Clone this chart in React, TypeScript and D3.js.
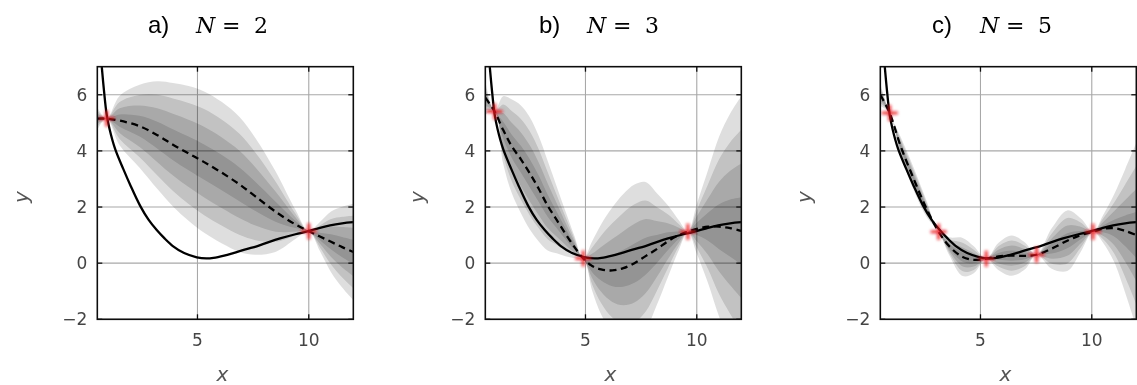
import React from 'react';
import * as d3 from 'd3';

const W = 1137;
const H = 385;

// ---- data ----
const trueX = [0.5, 0.6, 0.7, 0.8, 0.92, 1.05, 1.3, 1.67, 2.0, 2.42, 2.8, 3.17, 3.5, 3.91, 4.4, 4.97, 5.4, 5.72, 6.2, 6.61, 7.2, 7.66, 8.2, 8.71, 9.4, 9.98, 10.5, 10.96, 11.5, 12.0];
const trueY = [9.0, 7.9, 7.0, 6.15, 5.3, 4.78, 4.07, 3.35, 2.75, 2.05, 1.55, 1.18, 0.9, 0.6, 0.36, 0.21, 0.17, 0.19, 0.27, 0.36, 0.5, 0.6, 0.75, 0.88, 1.03, 1.14, 1.26, 1.35, 1.42, 1.46];

const titles = ['a)', 'b)', 'c)'];
const sampleCounts = ['2', '3', '5'];

const aX = [0.5, 0.92, 1.5, 2.4, 3.2, 3.9, 4.6, 5.3, 6.1, 6.9, 7.6, 8.5, 9.4, 10.0, 10.5, 11.0, 11.5, 12.0];
const aMean = [5.15, 5.15, 5.08, 4.88, 4.56, 4.22, 3.91, 3.6, 3.22, 2.8, 2.38, 1.84, 1.38, 1.14, 0.95, 0.76, 0.57, 0.4];
const aSd = [0.1, 0, 0.22, 0.37, 0.48, 0.55, 0.6, 0.63, 0.63, 0.6, 0.52, 0.36, 0.13, 0, 0.13, 0.27, 0.36, 0.43];
const aObsX = [0.92, 10.0];
const aObsY = [5.15, 1.14];

const bX = [0.5, 0.92, 1.3, 1.7, 2.1, 2.5, 2.9, 3.3, 3.7, 4.1, 4.5, 4.9, 5.3, 5.7, 6.2, 6.7, 7.2, 7.7, 8.2, 8.7, 9.2, 9.6, 10.0, 10.5, 11.0, 11.5, 12.0];
const bMean = [5.9, 5.4, 4.75, 4.15, 3.7, 3.2, 2.65, 2.05, 1.55, 1.05, 0.58, 0.17, -0.1, -0.22, -0.26, -0.18, 0.0, 0.25, 0.5, 0.78, 1.0, 1.12, 1.22, 1.3, 1.3, 1.25, 1.15];
const bSd = [0.15, 0, 0.3, 0.42, 0.48, 0.5, 0.47, 0.4, 0.3, 0.2, 0.1, 0, 0.22, 0.4, 0.56, 0.66, 0.7, 0.66, 0.5, 0.32, 0.13, 0, 0.22, 0.5, 0.8, 1.02, 1.2];
const bObsX = [0.92, 4.9, 9.6];
const bObsY = [5.4, 0.17, 1.12];

const cX = [0.5, 0.92, 1.4, 2.0, 2.6, 3.12, 3.6, 4.2, 4.7, 5.26, 5.8, 6.4, 7.0, 7.52, 8.2, 8.9, 9.5, 10.06, 10.5, 11.0, 11.5, 12.0];
const cMean = [6.0, 5.35, 4.2, 3.0, 1.9, 1.12, 0.6, 0.22, 0.12, 0.16, 0.24, 0.27, 0.26, 0.3, 0.52, 0.8, 1.0, 1.12, 1.22, 1.25, 1.15, 1.0];
const cSd = [0.1, 0, 0.08, 0.1, 0.07, 0, 0.08, 0.17, 0.12, 0, 0.12, 0.18, 0.12, 0, 0.18, 0.27, 0.15, 0, 0.12, 0.3, 0.55, 0.82];
const cObsX = [0.92, 3.12, 5.26, 7.52, 10.06];
const cObsY = [5.35, 1.12, 0.16, 0.3, 1.12];

const xTicks = [5, 10];
const yTicks = [-2, 0, 2, 4, 6];
const bandLevels = [4, 3, 2, 1];

// ---- layout ----
const panelLefts = [97.3, 485.3, 880.3];
const titleCenters = [209, 600, 993];
const yLabelXs = [22, 418, 805];
const PW = 256;
const TOP = 66.7;
const BOTTOM = 319.3;

const panels = [
  { xs: aX, mean: aMean, sd: aSd, ox: aObsX, oy: aObsY },
  { xs: bX, mean: bMean, sd: bSd, ox: bObsX, oy: bObsY },
  { xs: cX, mean: cMean, sd: cSd, ox: cObsX, oy: cObsY },
];

const tickFont = '"DejaVu Sans", sans-serif';
const mathFont = '"DejaVu Serif", serif';

function Panel({ i }: { i: number }) {
  const p = panels[i];
  const left = panelLefts[i];
  const x = d3.scaleLinear().domain([0.5, 12]).range([left, left + PW]);
  const y = d3.scaleLinear().domain([-2, 7]).range([BOTTOM, TOP]);
  const idx = p.xs.map((_, k) => k);
  const curve = d3.curveCatmullRom.alpha(0.5);

  const line = d3
    .line<number>()
    .x((k) => x(p.xs[k]))
    .y((k) => y(p.mean[k]))
    .curve(curve);
  const truth = d3
    .line<number>()
    .x((k) => x(trueX[k]))
    .y((k) => y(trueY[k]))
    .curve(curve);
  const clipId = `clip${i}`;
  const tc = titleCenters[i];

  return (
    <g>
      <defs>
        <clipPath id={clipId}>
          <rect x={left} y={TOP} width={PW} height={BOTTOM - TOP} />
        </clipPath>
      </defs>
      {xTicks.map((t) => (
        <line key={'gx' + t} x1={x(t)} x2={x(t)} y1={TOP} y2={BOTTOM} stroke="#a8a8a8" strokeWidth={1.1} />
      ))}
      {yTicks.map((t) => (
        <line key={'gy' + t} x1={left} x2={left + PW} y1={y(t)} y2={y(t)} stroke="#a8a8a8" strokeWidth={1.1} />
      ))}
      <g clipPath={`url(#${clipId})`}>
        {bandLevels.map((k) => {
          const area = d3
            .area<number>()
            .x((j) => x(p.xs[j]))
            .y0((j) => y(p.mean[j] - k * p.sd[j]))
            .y1((j) => y(p.mean[j] + k * p.sd[j]))
            .curve(curve);
          return <path key={'b' + k} d={area(idx) || ''} fill="#000" fillOpacity={0.13} />;
        })}
        <path d={truth(trueX.map((_, k) => k)) || ''} fill="none" stroke="#000" strokeWidth={2.3} />
        <path d={line(idx) || ''} fill="none" stroke="#000" strokeWidth={2.3} strokeDasharray="7 4.5" />
        {p.ox.map((ox, k) => {
          const cx = x(ox);
          const cy = y(p.oy[k]);
          return (
            <path
              key={'o' + k}
              d={`M${cx - 8},${cy}L${cx + 8},${cy}M${cx},${cy - 8}L${cx},${cy + 8}`}
              stroke="#e8101a"
              strokeWidth={3}
              strokeOpacity={0.85}
              filter="url(#blur2)"
            />
          );
        })}
      </g>
      <rect x={left} y={TOP} width={PW} height={BOTTOM - TOP} fill="none" stroke="#111" strokeWidth={1.6} />
      {xTicks.map((t) => (
        <g key={'tx' + t}>
          <line x1={x(t)} x2={x(t)} y1={BOTTOM} y2={BOTTOM - 5} stroke="#111" strokeWidth={1.3} />
          <line x1={x(t)} x2={x(t)} y1={TOP} y2={TOP + 5} stroke="#111" strokeWidth={1.3} />
          <text x={x(t)} y={BOTTOM + 27} textAnchor="middle" fontFamily={tickFont} fontSize={17} fill="#444">
            {t}
          </text>
        </g>
      ))}
      {yTicks.map((t) => (
        <g key={'ty' + t}>
          <line x1={left} x2={left + 5} y1={y(t)} y2={y(t)} stroke="#111" strokeWidth={1.3} />
          <line x1={left + PW} x2={left + PW - 5} y1={y(t)} y2={y(t)} stroke="#111" strokeWidth={1.3} />
          <text x={left - 10} y={y(t)} dy="0.36em" textAnchor="end" fontFamily={tickFont} fontSize={17} fill="#444">
            {t < 0 ? '\u2212' + Math.abs(t) : t}
          </text>
        </g>
      ))}
      <text
        x={left + PW / 2 - 3}
        y={381}
        textAnchor="middle"
        fontFamily={tickFont}
        fontStyle="italic"
        fontSize={20}
        fill="#555"
      >
        x
      </text>
      <text
        transform={`translate(${yLabelXs[i]},${(TOP + BOTTOM) / 2 + 4}) rotate(-90)`}
        textAnchor="middle"
        dy="0.3em"
        fontFamily={tickFont}
        fontStyle="italic"
        fontSize={20}
        fill="#555"
      >
        y
      </text>
      <text x={tc - 61} y={33} fontFamily='"Liberation Sans", Arial, sans-serif' fontSize={24} fill="#000">
        {titles[i]}
      </text>
      <text x={tc - 13} y={33} fontFamily={mathFont} fontStyle="italic" fontSize={22} fill="#000">
        N
      </text>
      <text x={tc + 13} y={33} fontFamily={mathFont} fontSize={22} fill="#000">
        =
      </text>
      <text x={tc + 45} y={33} fontFamily={mathFont} fontSize={22} fill="#000">
        {sampleCounts[i]}
      </text>
    </g>
  );
}

export default function App() {
  return (
    <svg
      width={W}
      height={H}
      viewBox={`0 0 ${W} ${H}`}
      style={{ position: 'absolute', left: 0, top: 0, background: '#fff' }}
    >
      <defs>
        <filter id="blur1" x="-5%" y="-5%" width="110%" height="110%">
          <feGaussianBlur stdDeviation={0.5} />
        </filter>
        <filter id="blur2" x="-50%" y="-50%" width="200%" height="200%">
          <feGaussianBlur stdDeviation={1.4} />
        </filter>
      </defs>
      <rect x={0} y={0} width={W} height={H} fill="#fff" />
      <g filter="url(#blur1)">
        {[0, 1, 2].map((i) => (
          <Panel key={i} i={i} />
        ))}
      </g>
    </svg>
  );
}
